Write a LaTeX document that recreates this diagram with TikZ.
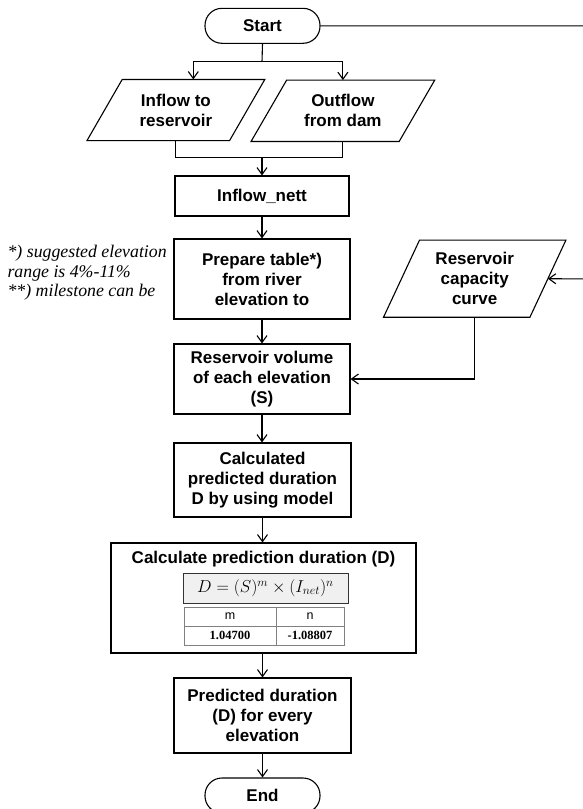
\documentclass[tikz,border=0pt]{standalone}
\usepackage{fontspec}
\setmainfont{Liberation Serif}
\setsansfont{Liberation Sans}
\usetikzlibrary{arrows.meta,calc}
\begin{document}
\begin{tikzpicture}[x=1pt,y=-1pt,
  line width=1.1pt,
  font=\sffamily\bfseries\fontsize{17}{20}\selectfont,
  box/.style={draw, rectangle, align=center, inner sep=2pt},
  term/.style={draw, rectangle, rounded corners=17pt, minimum width=115pt, minimum height=35pt, inner sep=0pt},
  io/.style={rectangle, align=center, inner sep=0pt},
  arr/.style={-{Straight Barb[length=7pt,width=10pt]}},
  cell/.style={draw=black!50, line width=0.8pt, rectangle, inner sep=0pt, minimum height=19pt},
]
\useasboundingbox (0,0) rectangle (583,809);

% terminals
\node[term] (start) at (262.5,25.8) {Start};
\node[term] (end) at (262.5,795.5) {End};

% input/output parallelograms
\node[io, minimum width=141.5pt, minimum height=60pt] (inflow) at (175.9,110) {Inflow to\\reservoir};
\draw ([xshift=17.6pt]inflow.north west) -- ([xshift=17.6pt]inflow.north east) -- ([xshift=-17.6pt]inflow.south east) -- ([xshift=-17.6pt]inflow.south west) -- cycle;
\node[io, minimum width=147pt, minimum height=60.3pt] (outflow) at (342.9,110.8) {Outflow\\from dam};
\draw ([xshift=17.8pt]outflow.north west) -- ([xshift=17.8pt]outflow.north east) -- ([xshift=-17.8pt]outflow.south east) -- ([xshift=-17.8pt]outflow.south west) -- cycle;
\node[io, minimum width=145.3pt, minimum height=76pt] (cap) at (474.7,278.7) {Reservoir\\capacity\\curve};
\draw ([xshift=18pt]cap.north west) -- ([xshift=18pt]cap.north east) -- ([xshift=-18pt]cap.south east) -- ([xshift=-18pt]cap.south west) -- cycle;

% process boxes
\node[box, minimum width=174pt, minimum height=40pt] (nett) at (262,196) {Inflow\_nett};
\node[box, minimum width=176pt, minimum height=80pt] (prep) at (262,279) {Prepare table*)\\from river\\elevation to};
\node[box, minimum width=176pt, minimum height=70pt] (vol) at (262,379) {Reservoir volume\\of each elevation\\(S)};
\node[box, minimum width=177pt, minimum height=74pt] (calc) at (262.5,480) {Calculated\\predicted duration\\D by using model};
\node[box, minimum width=305pt, minimum height=110pt] (calcp) at (263.5,598) {};
\node[inner sep=0pt] (calct) at (263.5,559) {Calculate prediction duration (D)};
\node[draw=black!80, fill=black!6, line width=0.9pt, minimum width=165pt, minimum height=30pt, inner sep=0pt] (formula) at (265.5,588) {\fontsize{17}{20}\selectfont $D=(S)^m\times(I_{net})^n$};
\node[cell, minimum width=92pt] (hm) at (230,616.5) {\mdseries\fontsize{12.5}{14}\selectfont m};
\node[cell, minimum width=68pt] (hn) at (310,616.5) {\mdseries\fontsize{12.5}{14}\selectfont n};
\node[cell, minimum width=92pt] (vm) at (230,635.5) {\rmfamily\fontsize{12.5}{14}\selectfont 1.04700};
\node[cell, minimum width=68pt] (vn) at (310,635.5) {\rmfamily\fontsize{12.5}{14}\selectfont -1.08807};
\node[box, minimum width=177pt, minimum height=75pt] (pred) at (262.5,715.5) {Predicted duration\\(D) for every\\elevation};

% notes
\node[anchor=north west, align=left, inner sep=0pt, font=\rmfamily\itshape\fontsize{17.8}{19.5}\selectfont] (notes) at (7,245) {*) suggested elevation\\range is 4\%-11\%\\**) milestone can be};

% connectors
\coordinate (js) at (262,61.7);
\coordinate (jn) at (262,157.3);
\coordinate (r1) at (592,25.8);
\coordinate (r2) at (592,279);
\draw (start.south) -- (js);
\draw[arr] (js) -| ([xshift=17.4pt]inflow.north);
\draw[arr] (js) -| (outflow.north);
\draw (inflow.south) |- (jn) -| (outflow.south);
\draw[arr] (jn) -- (nett.north);
\draw[arr] (nett.south) -- (prep.north);
\draw[arr] (prep.south) -- (vol.north);
\draw[arr] (vol.south) -- (vol.south |- calc.north);
\draw[arr] (calc.south) -- (calcp.north -| calc.south);
\draw[arr] (calcp.south -| pred.north) -- (pred.north);
\draw[arr] (pred.south) -- (end.north);
\draw[arr] (start.east) -- (r1) -- (r2) -- (cap.east);
\draw[arr] (cap.south) |- (vol.east);
\end{tikzpicture}
\end{document}
